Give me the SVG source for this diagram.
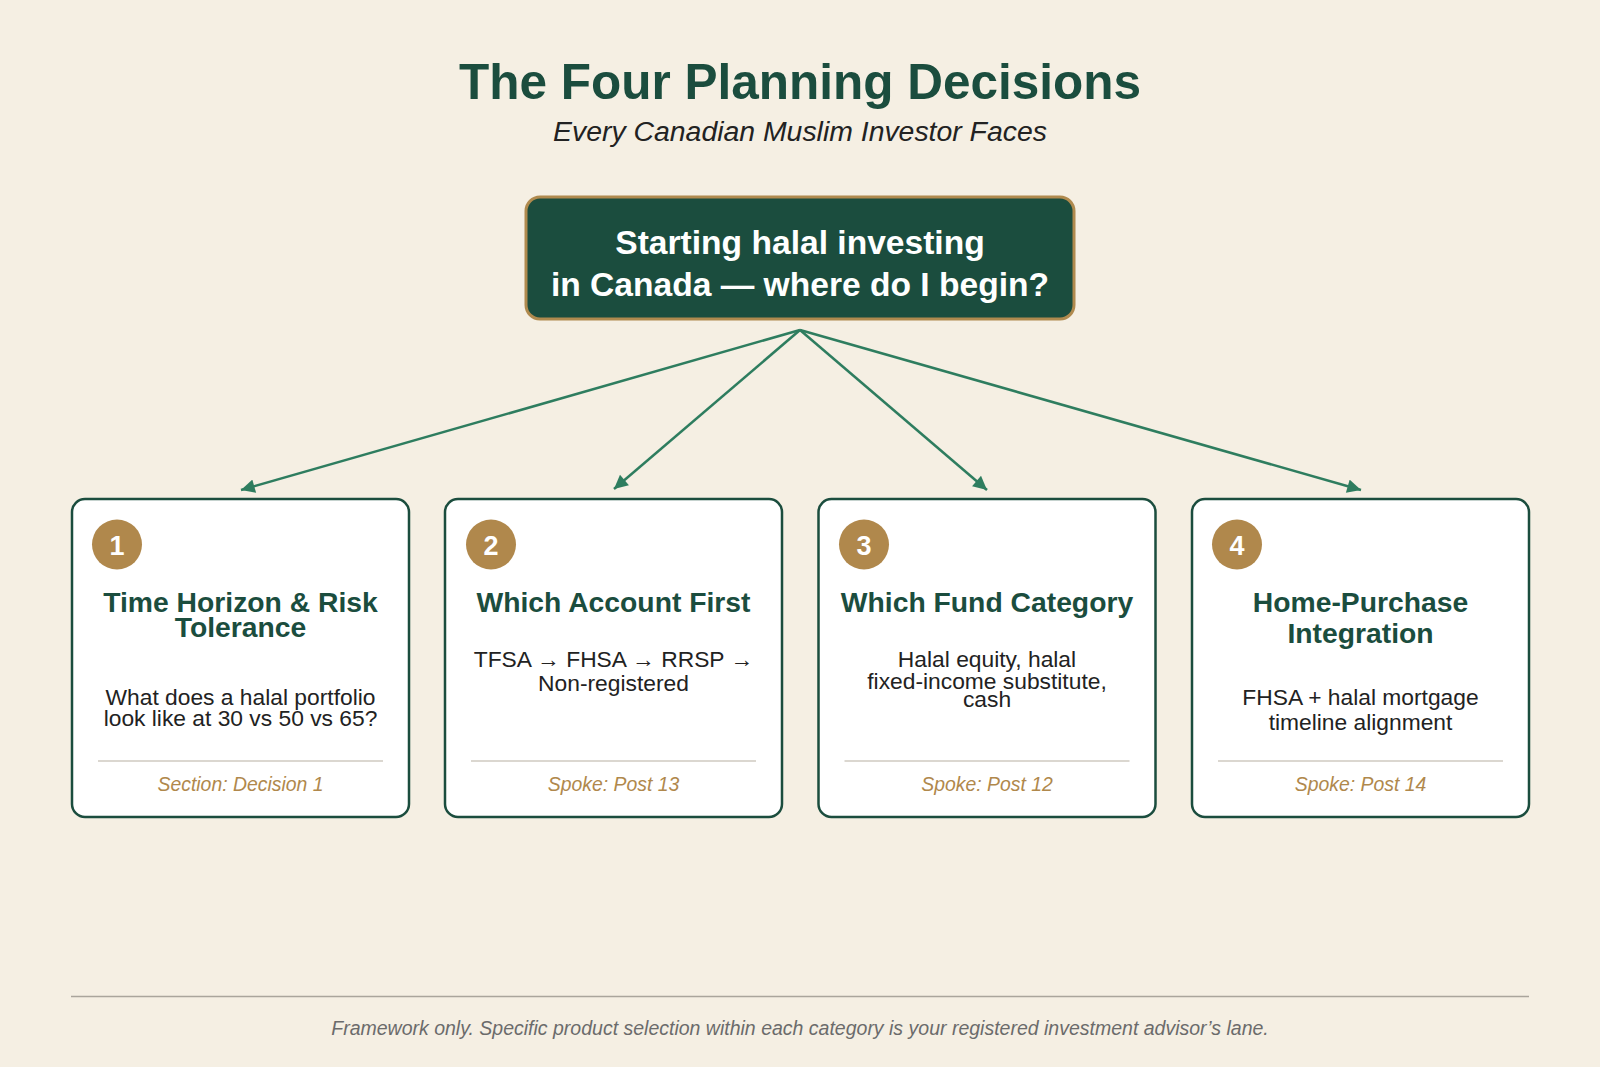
<svg xmlns="http://www.w3.org/2000/svg" width="1600" height="1067" viewBox="0 0 1600 1067">
<style>
.bg{fill:#f5efe3}
.title{font-family:"Liberation Sans",Arial,sans-serif;font-weight:bold;font-size:49.5px;fill:#1b4d3e;text-anchor:middle}
.sub{font-family:"Liberation Sans",Arial,sans-serif;font-style:italic;font-size:28.4px;fill:#222;text-anchor:middle}
.root{fill:#1b4d3e;stroke:#b08a4e;stroke-width:3}
.rootText{font-family:"Liberation Sans",Arial,sans-serif;font-weight:bold;font-size:33.6px;fill:#fff;text-anchor:middle}
.card{fill:#fff;stroke:#1b4d3e;stroke-width:2.5}
.badge{fill:#b0884c}
.num{font-family:"Liberation Sans",Arial,sans-serif;font-weight:bold;font-size:27px;fill:#fff;text-anchor:middle}
.ctitle{font-family:"Liberation Sans",Arial,sans-serif;font-weight:bold;font-size:28.3px;fill:#1b4d3e;text-anchor:middle}
.body{font-family:"Liberation Sans",Arial,sans-serif;font-size:22.8px;fill:#222;text-anchor:middle}
.div{stroke:#b8b0a2;stroke-width:1.2}
.foot{font-family:"Liberation Sans",Arial,sans-serif;font-style:italic;font-size:19.4px;fill:#b0884c;text-anchor:middle}
.note{font-family:"Liberation Sans",Arial,sans-serif;font-style:italic;font-size:19.5px;fill:#6b6b6b;text-anchor:middle}
.conn{stroke:#2e7d5f;stroke-width:2.5;fill:none}
</style>
<defs>
<marker id="arr" viewBox="0 0 10 10" refX="10" refY="5" markerWidth="6" markerHeight="5.5" orient="auto" markerUnits="strokeWidth">
<path d="M0,0 L10,5 L0,10 z" fill="#2e7d5f"/>
</marker>
</defs>
<rect class="bg" x="0" y="0" width="1600" height="1067"/>
<g id="header">
<text class="title" x="800" y="99">The Four Planning Decisions</text>
<text class="sub" x="800" y="141">Every Canadian Muslim Investor Faces</text>
</g>
<g id="connectors">
<line class="conn" x1="800" y1="330" x2="241" y2="490" marker-end="url(#arr)"/>
<line class="conn" x1="800" y1="330" x2="614" y2="489" marker-end="url(#arr)"/>
<line class="conn" x1="800" y1="330" x2="987" y2="490" marker-end="url(#arr)"/>
<line class="conn" x1="800" y1="330" x2="1361" y2="490" marker-end="url(#arr)"/>
</g>
<g id="root">
<rect class="root" x="526" y="197" width="548" height="122" rx="14"/>
<text class="rootText" x="800" y="254">Starting halal investing</text>
<text class="rootText" x="800" y="296">in Canada — where do I begin?</text>
</g>
<g id="card1">
<rect class="card" x="72" y="499" width="337" height="318" rx="13"/>
<circle class="badge" cx="117" cy="544.5" r="25"/>
<text class="num" x="117" y="554.5">1</text>
<text class="ctitle" x="240.5" y="612">Time Horizon &amp; Risk</text>
<text class="ctitle" x="240.5" y="637">Tolerance</text>
<text class="body" x="240.5" y="705">What does a halal portfolio</text>
<text class="body" x="240.5" y="726">look like at 30 vs 50 vs 65?</text>
<line class="div" x1="98" y1="761" x2="383" y2="761"/>
<text class="foot" x="240.5" y="791">Section: Decision 1</text>
</g>
<g id="card2">
<rect class="card" x="445" y="499" width="337" height="318" rx="13"/>
<circle class="badge" cx="491" cy="544.5" r="25"/>
<text class="num" x="491" y="554.5">2</text>
<text class="ctitle" x="613.5" y="612">Which Account First</text>
<text class="body" x="613.5" y="667">TFSA → FHSA → RRSP →</text>
<text class="body" x="613.5" y="691">Non-registered</text>
<line class="div" x1="471" y1="761" x2="756" y2="761"/>
<text class="foot" x="613.5" y="791">Spoke: Post 13</text>
</g>
<g id="card3">
<rect class="card" x="818.5" y="499" width="337" height="318" rx="13"/>
<circle class="badge" cx="864" cy="544.5" r="25"/>
<text class="num" x="864" y="554.5">3</text>
<text class="ctitle" x="987" y="612">Which Fund Category</text>
<text class="body" x="987" y="667">Halal equity, halal</text>
<text class="body" x="987" y="689">fixed-income substitute,</text>
<text class="body" x="987" y="707">cash</text>
<line class="div" x1="844.5" y1="761" x2="1129.5" y2="761"/>
<text class="foot" x="987" y="791">Spoke: Post 12</text>
</g>
<g id="card4">
<rect class="card" x="1192" y="499" width="337" height="318" rx="13"/>
<circle class="badge" cx="1237" cy="544.5" r="25"/>
<text class="num" x="1237" y="554.5">4</text>
<text class="ctitle" x="1360.5" y="612">Home-Purchase</text>
<text class="ctitle" x="1360.5" y="643">Integration</text>
<text class="body" x="1360.5" y="705">FHSA + halal mortgage</text>
<text class="body" x="1360.5" y="730">timeline alignment</text>
<line class="div" x1="1218" y1="761" x2="1503" y2="761"/>
<text class="foot" x="1360.5" y="791">Spoke: Post 14</text>
</g>
<g id="footer">
<line x1="71" y1="996.5" x2="1529" y2="996.5" stroke="#aaa59c" stroke-width="1.5"/>
<text class="note" x="800" y="1035">Framework only. Specific product selection within each category is your registered investment advisor’s lane.</text>
</g>
</svg>
